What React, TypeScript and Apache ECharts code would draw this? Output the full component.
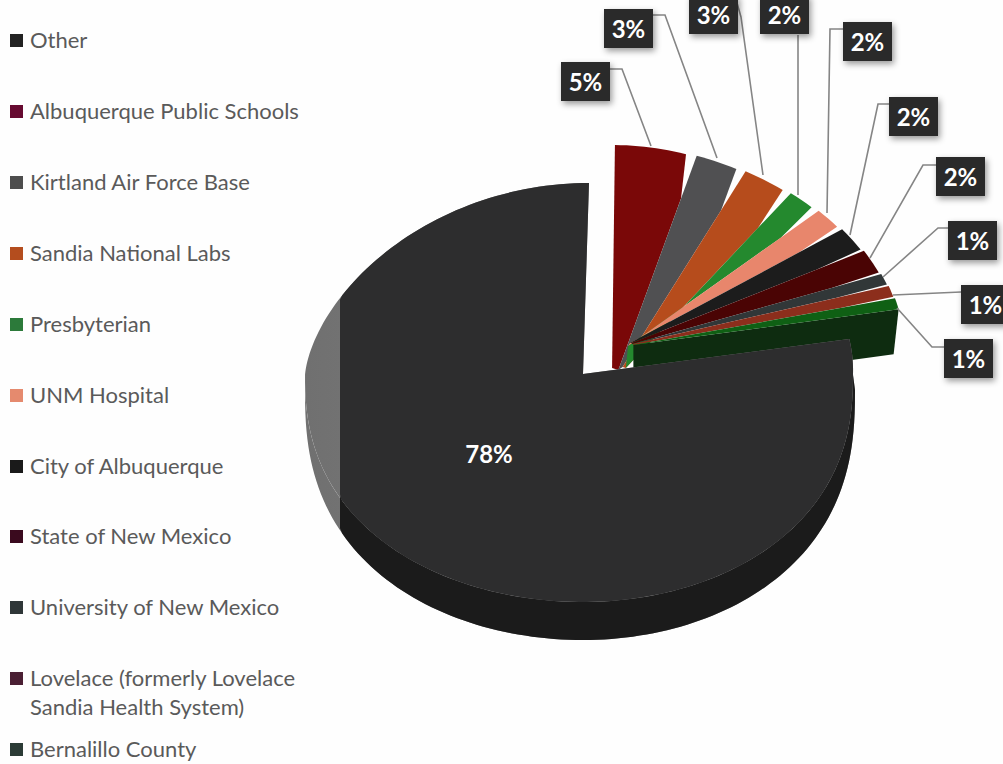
import React, { useEffect, useRef } from "react";
import * as echarts from "echarts";

// Employers and their share of the total, in percent
const categories = [
  "Other",
  "Albuquerque Public Schools",
  "Kirtland Air Force Base",
  "Sandia National Labs",
  "Presbyterian",
  "UNM Hospital",
  "City of Albuquerque",
  "State of New Mexico",
  "University of New Mexico",
  "Lovelace (formerly Lovelace\nSandia Health System)",
  "Bernalillo County",
];
const shares = [78, 5, 3, 3, 2, 2, 2, 2, 1, 1, 1];

const legendColors = [
  "#222222", "#660a30", "#4d4d4d", "#b44d1e", "#2c7a3a", "#e58a6e",
  "#1a1a1a", "#3a0a1e", "#2f3638", "#4a1f33", "#2b3b36",
];
const sliceColors = [
  "#2d2d2e", "#7a0808", "#505052", "#b64c1c", "#24892e", "#e8866c",
  "#1c1c1c", "#4a0404", "#313738", "#8c2e1c", "#0f6014",
];

// Vertical position of each legend entry's first line
const legendRows = [40, 111, 182, 253, 324, 395, 466, 536, 607, 678, 749];

// Callout boxes (left, top) for the small slices, in drawing order
const calloutBoxes = [
  [561, 62], [604, 9], [689, -5], [760, -5], [843, 22],
  [889, 97], [936, 157], [948, 221], [961, 285], [944, 339],
];
const calloutLeaders = [
  [[609, 69], [622, 69], [651, 146]],
  [[653, 15], [665, 15], [717, 158]],
  [[737, 3], [741, 17], [763, 175]],
  [[798, 35], [798, 195]],
  [[843, 29], [830, 29], [827, 213]],
  [[889, 104], [878, 104], [850, 235]],
  [[936, 165], [923, 165], [870, 258]],
  [[948, 228], [938, 228], [883, 277]],
  [[961, 292], [893, 295]],
  [[944, 347], [932, 347], [897, 308]],
];
// How far down the narrow end of each small slice reaches
const sliceTipY = [368, 370, 367, 368, 346, 343, 343, 344, 344, 345];

const FONT = "Lato";
const BOX_W = 49;
const BOX_H = 39;
const SEAM_X = 340; // left of this the big slice turns grey
const total = shares.reduce((a, b) => a + b, 0);
const RAD = Math.PI / 180;

const signedPow = (c: number, p: number) => Math.sign(c) * Math.pow(Math.abs(c), p);

// Top face of the large slice, tilted in perspective
function faceOuter(deg: number) {
  const s = Math.sin(deg * RAD);
  const c = Math.cos(deg * RAD);
  const rx = s >= 0 ? 270 : 278;
  const x = 583 + rx * s + 6 * Math.max(c, 0);
  const y =
    c >= 0
      ? 375 - 192 * Math.pow(c, s >= 0 ? 1 : 1.2)
      : 375 + 227 * Math.pow(-c, 0.85);
  return [x, y];
}

// Lower rim of the large slice's side wall
function rimOuter(deg: number) {
  const s = Math.sin(deg * RAD);
  const c = Math.cos(deg * RAD);
  const rx = s >= 0 ? 272 : 278;
  return [583 + rx * s, 390 - signedPow(c, 0.8) * 250];
}

// Outer edge of a pulled-out small slice; each one shifts right with its mid angle
function smallOuter(deg: number, mid: number) {
  const s = Math.sin(deg * RAD);
  const c = Math.cos(deg * RAD);
  const originX = 612 + ((mid - 9) * 22) / 68;
  return [originX + (240 + 30 * s) * s, 348 - 203 * c];
}

function arc(from: number, to: number, fn: (d: number) => number[]) {
  const out: number[][] = [];
  const steps = Math.max(2, Math.ceil(Math.abs(to - from) / 1.5));
  for (let i = 0; i <= steps; i++) out.push(fn(from + ((to - from) * i) / steps));
  return out;
}

const clampSeam = (pts: number[][]) => pts.map(([x, y]) => [Math.max(x, SEAM_X), y]);

function drawBigSlice(startDeg: number, endDeg: number) {
  const apex = [583, 374];
  const face = [apex, ...arc(startDeg, endDeg, faceOuter)];
  const wall = [...arc(90, 270, rimOuter), ...arc(270, 90, faceOuter)];
  const grey = new echarts.graphic.LinearGradient(0, 0, 1, 0, [
    { offset: 0, color: "#707070" },
    { offset: 1, color: "#8e8e8e" },
  ]);
  return [
    { type: "polygon", shape: { points: wall }, style: { fill: grey } },
    { type: "polygon", shape: { points: face }, style: { fill: grey } },
    { type: "polygon", shape: { points: clampSeam(wall) }, style: { fill: "#1b1b1b" } },
    { type: "polygon", shape: { points: clampSeam(face) }, style: { fill: sliceColors[0] } },
  ];
}

const tipXOf = (mid: number) => 608 + 26 * Math.sin(mid * RAD);
const gapOf = (order: number) => (order < 5 ? 0.7 : 0.2);

function drawSmallSlice(index: number, order: number, startDeg: number, endDeg: number) {
  const mid = (startDeg + endDeg) / 2;
  const tip = [tipXOf(mid), sliceTipY[order]];
  const gap = gapOf(order);
  const outer = (d: number) => smallOuter(d, mid);
  const points = [tip, ...arc(startDeg + gap, endDeg - gap, outer)];
  const last = order === calloutBoxes.length - 1;
  const children: any[] = [];

  if (last) {
    // The final slice shows its cut side below the top face
    const corner = outer(endDeg - gap);
    children.push({
      type: "polygon",
      shape: {
        points: [
          tip,
          corner,
          [corner[0] - 5, corner[1] + 45],
          [tip[0], tip[1] + 45],
        ],
      },
      style: { fill: "#0e2c10" },
    });
  } else {
    // Neighbouring slices part only near the rim: close the seam towards the next tip
    const nextSpan = sliceSpans[order + 1];
    const nextMid = (nextSpan[0] + nextSpan[1]) / 2;
    const nextTip = [tipXOf(nextMid), sliceTipY[order + 1]];
    const nextLeft = smallOuter(nextSpan[0] + gapOf(order + 1), nextMid);
    const knot = [
      nextLeft[0] + (nextTip[0] - nextLeft[0]) * 0.2,
      nextLeft[1] + (nextTip[1] - nextLeft[1]) * 0.2,
    ];
    points.push(knot, nextTip);
  }
  children.push({
    type: "polygon",
    shape: { points },
    style: { fill: sliceColors[index] },
  });
  return children;
}

function drawCallout(index: number, order: number) {
  const [left, top] = calloutBoxes[order];
  return [
    {
      type: "polyline",
      shape: { points: calloutLeaders[order] },
      style: { stroke: "#858585", lineWidth: 1.6, fill: "none" },
    },
    {
      type: "rect",
      shape: { x: left, y: top, width: BOX_W, height: BOX_H },
      style: {
        fill: "#2a2a2b",
        shadowBlur: 6,
        shadowOffsetX: 2,
        shadowOffsetY: 3,
        shadowColor: "rgba(0,0,0,0.4)",
      },
    },
    {
      type: "text",
      style: {
        x: left + BOX_W / 2,
        y: top + BOX_H / 2,
        text: `${shares[index]}%`,
        fill: "#ffffff",
        font: `bold 24px ${FONT}`,
        align: "center",
        verticalAlign: "middle",
      },
    },
  ];
}

// Slices run clockwise from twelve o'clock; "Other" closes the circle and sits on top
const drawOrder = [1, 2, 3, 4, 5, 6, 7, 8, 9, 10, 0];
const sliceSpans = (() => {
  let acc = 0;
  const spans: number[][] = [];
  for (const i of drawOrder) {
    const from = (acc / total) * 360;
    acc += shares[i];
    spans.push([from, (acc / total) * 360]);
  }
  return spans;
})();

function renderSlice(params: any) {
  const order = params.dataIndex;
  const index = drawOrder[order];
  const [from, to] = sliceSpans[order];
  if (index === 0) return { type: "group", children: drawBigSlice(from, to) };
  return { type: "group", children: drawSmallSlice(index, order, from, to) };
}

function renderCallout(params: any) {
  const order = params.dataIndex;
  const index = drawOrder[order];
  if (index === 0) {
    return {
      type: "text",
      style: {
        x: 489,
        y: 453,
        text: `${shares[0]}%`,
        fill: "#ffffff",
        font: `bold 24px ${FONT}`,
        align: "center",
        verticalAlign: "middle",
      },
    };
  }
  return { type: "group", children: drawCallout(index, order) };
}

function legendGraphics() {
  const items: any[] = [];
  categories.forEach((name, i) => {
    const y = legendRows[i];
    items.push({
      type: "rect",
      shape: { x: 10, y: y - 6, width: 13, height: 13 },
      style: { fill: legendColors[i] },
    });
    items.push({
      type: "text",
      style: {
        x: 30,
        y: y - 15,
        text: name,
        fill: "#5a5a5a",
        font: `22px ${FONT}`,
        lineHeight: 29,
        verticalAlign: "top",
      },
    });
  });
  return items;
}

export default function App() {
  const ref = useRef<HTMLDivElement>(null);

  useEffect(() => {
    const chart = echarts.init(ref.current!, null, { renderer: "svg" });
    const seriesData = drawOrder.map((i) => ({ name: categories[i], value: shares[i] }));
    chart.setOption({
      animation: false,
      backgroundColor: "#fefefe",
      graphic: legendGraphics(),
      series: [
        {
          type: "custom",
          coordinateSystem: "none",
          renderItem: renderSlice,
          data: seriesData,
          silent: true,
          z: 2,
        },
        {
          type: "custom",
          coordinateSystem: "none",
          renderItem: renderCallout,
          data: seriesData,
          silent: true,
          z: 3,
        },
      ],
    });
    return () => chart.dispose();
  }, []);

  return (
    <div
      ref={ref}
      style={{ position: "fixed", left: 0, top: 0, width: 1003, height: 764 }}
    />
  );
}
